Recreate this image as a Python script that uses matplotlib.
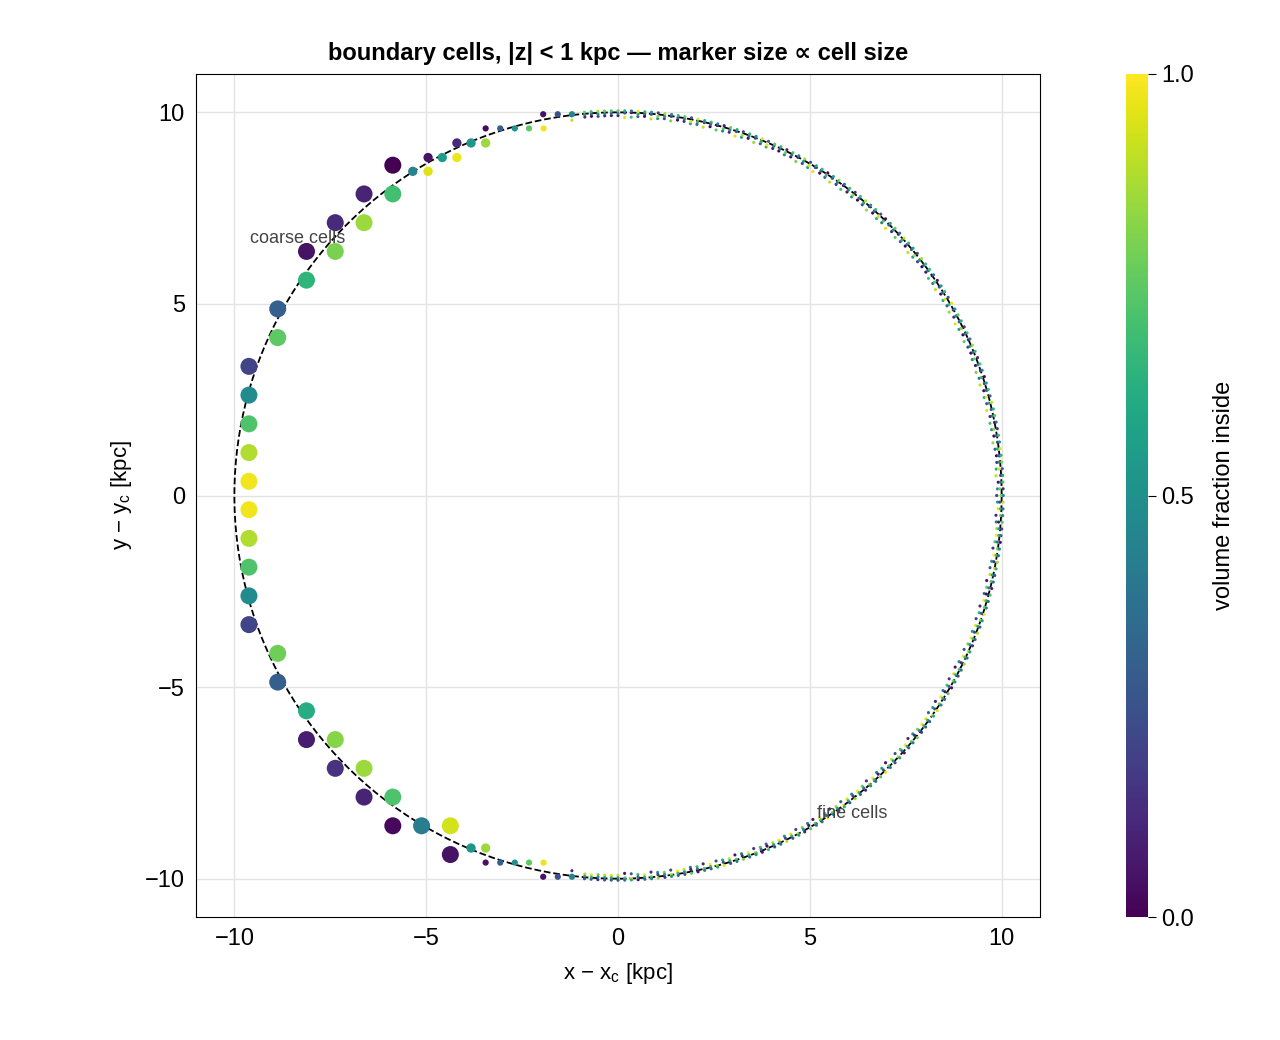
import numpy as np
import matplotlib.pyplot as plt

plt.rcParams['font.family'] = ['Liberation Sans', 'DejaVu Sans']

# coarse cells (left side), x, y, volume fraction
coarse_x = [-5.87, -5.87, -6.62, -6.62, -7.37, -7.37, -8.12, -8.12, -8.87, -8.87,
            -9.62, -9.62, -9.62, -9.62, -9.62,
            -9.62, -9.62, -9.62, -9.62, -9.62,
            -8.87, -8.87, -8.12, -8.12, -7.37, -7.37, -6.62, -6.62, -5.87, -5.87,
            -5.12, -4.37, -4.37]
coarse_y = [8.62, 7.87, 7.87, 7.12, 7.12, 6.37, 6.37, 5.62, 4.87, 4.12,
            3.37, 2.62, 1.87, 1.12, 0.37,
            -0.37, -1.12, -1.87, -2.62, -3.37,
            -4.12, -4.87, -5.62, -6.37, -6.37, -7.12, -7.12, -7.87, -7.87, -8.62,
            -8.62, -8.62, -9.37]
coarse_f = [0.0, 0.7, 0.1, 0.85, 0.12, 0.8, 0.05, 0.65, 0.3, 0.75,
            0.2, 0.48, 0.72, 0.88, 0.98,
            0.98, 0.88, 0.72, 0.48, 0.2,
            0.78, 0.3, 0.62, 0.08, 0.82, 0.15, 0.85, 0.1, 0.72, 0.02,
            0.42, 0.93, 0.05]

# medium cells
mid_x = [-5.35, -4.95, -4.95, -4.58, -4.2, -4.2, -3.83, -3.45,
         -3.83, -3.45]
mid_y = [8.46, 8.46, 8.82, 8.82, 8.82, 9.2, 9.2, 9.2,
         -9.2, -9.2]
mid_f = [0.45, 0.95, 0.05, 0.55, 0.97, 0.12, 0.52, 0.85,
         0.52, 0.85]

# small cells
small_x = [-3.45, -3.07, -2.69, -2.32, -1.94, -1.95, -1.57, -1.2,
           -3.45, -3.07, -2.69, -2.32, -1.94, -1.95, -1.57, -1.2]
small_y = [9.58, 9.58, 9.58, 9.58, 9.58, 9.95, 9.95, 9.95,
           -9.58, -9.58, -9.58, -9.58, -9.58, -9.95, -9.95, -9.95]
small_f = [0.02, 0.3, 0.5, 0.75, 0.98, 0.05, 0.25, 0.45,
           0.05, 0.3, 0.5, 0.75, 0.97, 0.05, 0.25, 0.45]

# fine cells (right side): polar angle [deg] and fraction
fine_ang = [97, 95, 94, 93, 92, 91, 90, 89, 88, 87, 86, 85, 84, 83, 82, 81, 80, 79, 78, 77,
            76, 75, 74, 73, 72, 71, 70, 69, 68, 67, 66, 65, 64, 63, 62, 61, 60, 59, 58, 57,
            56, 55, 54, 53, 52, 51, 50, 49, 48, 47, 46, 45, 44, 43, 42, 41, 40, 39, 38, 37,
            36, 35, 34, 33, 32, 31, 30, 29, 28, 27, 26, 25, 24, 23, 22, 21, 20, 19, 18, 17,
            16, 15, 14, 13, 12, 11, 10, 9, 8, 7, 6, 5, 4, 3, 2, 1, 0]
fine_f = [0.9, 0.1, 0.0, 0.2, 0.1, 0.05, 0.1, 0.95, 0.7, 0.3, 0.0, 0.9, 0.5, 0.2, 0.8, 1.0, 0.1, 0.6, 0.3, 0.9,
          0.0, 0.75, 0.4, 0.1, 0.95, 0.55, 0.0, 0.85, 0.3, 0.65, 0.1, 1.0, 0.45, 0.05, 0.8, 0.2, 0.6, 0.95, 0.0, 0.35,
          0.9, 0.15, 0.7, 0.05, 0.5, 1.0, 0.25, 0.85, 0.0, 0.6, 0.4, 0.95, 0.1, 0.75, 0.3, 0.0, 0.9, 0.55, 0.2, 1.0,
          0.05, 0.7, 0.4, 0.9, 0.0, 0.6, 0.3, 0.85, 0.1, 0.95, 0.5, 0.0, 0.75, 0.2, 1.0, 0.45, 0.05, 0.8, 0.35, 0.9,
          0.0, 0.65, 0.25, 0.95, 0.1, 0.7, 0.5, 0.0, 0.85, 0.3, 1.0, 0.15, 0.6, 0.9, 0.05, 0.45, 0.8]

fig = plt.figure(figsize=(12.8, 10.4), dpi=100)
ax = fig.add_axes([196/1280, 1 - 917/1040, 844/1280, 843/1040])
cax = fig.add_axes([1126/1280, 1 - 917/1040, 22/1280, 843/1040])

t = np.linspace(0, 2*np.pi, 400)
ax.plot(10*np.cos(t), 10*np.sin(t), '--', color='black', lw=1.3, zorder=2)

kw = dict(cmap='viridis', vmin=0, vmax=1, edgecolors='none', zorder=3)
a = np.radians(np.array(fine_ang))
ff = np.array(fine_f)
for dr, shift in [(-0.08, 0.0), (0.0, 0.33), (0.04, 0.66)]:
    fv = (ff + shift) % 1.0
    r = 10 + dr - 0.06*fv*(dr <= 0)
    ax.scatter(r*np.cos(a), r*np.sin(a), c=fv, s=5, **kw)
    ax.scatter(r*np.cos(-a), r*np.sin(-a), c=1-fv, s=5, **kw)
ax.scatter(small_x, small_y, c=small_f, s=20, **kw)
ax.scatter(mid_x, mid_y, c=mid_f, s=45, **kw)
sc = ax.scatter(coarse_x, coarse_y, c=coarse_f, s=150, **kw)

ax.text(-9.6, 6.7, 'coarse cells', fontsize=13, color='#444444', va='center', zorder=4)
ax.text(5.2, -8.3, 'fine cells', fontsize=13, color='#444444', va='center', zorder=4)

ax.set_xlim(-11, 11)
ax.set_ylim(-11, 11)
ax.set_xticks([-10, -5, 0, 5, 10])
ax.set_yticks([-10, -5, 0, 5, 10])
ax.set_xticklabels(['\u221210', '\u22125', '0', '5', '10'])
ax.set_yticklabels(['\u221210', '\u22125', '0', '5', '10'])
ax.tick_params(length=0, labelsize=17, pad=8)
ax.grid(True, color='#e3e3e3', lw=1)
ax.set_axisbelow(True)
ax.set_xlabel('x \u2212 x$_\\mathregular{c}$ [kpc]', fontsize=16, labelpad=8)
ax.set_ylabel('y \u2212 y$_\\mathregular{c}$ [kpc]', fontsize=16, labelpad=8)
ax.set_title('boundary cells, |z| < 1 kpc \u2014 marker size \u221d cell size',
             fontsize=17, fontweight='bold', pad=10)

cb = fig.colorbar(sc, cax=cax)
cb.set_ticks([0, 0.5, 1.0])
cb.ax.tick_params(labelsize=17, length=6)
cb.set_label('volume fraction inside', fontsize=17, labelpad=14)
cb.outline.set_visible(False)

fig.savefig('out.png', dpi=100)
